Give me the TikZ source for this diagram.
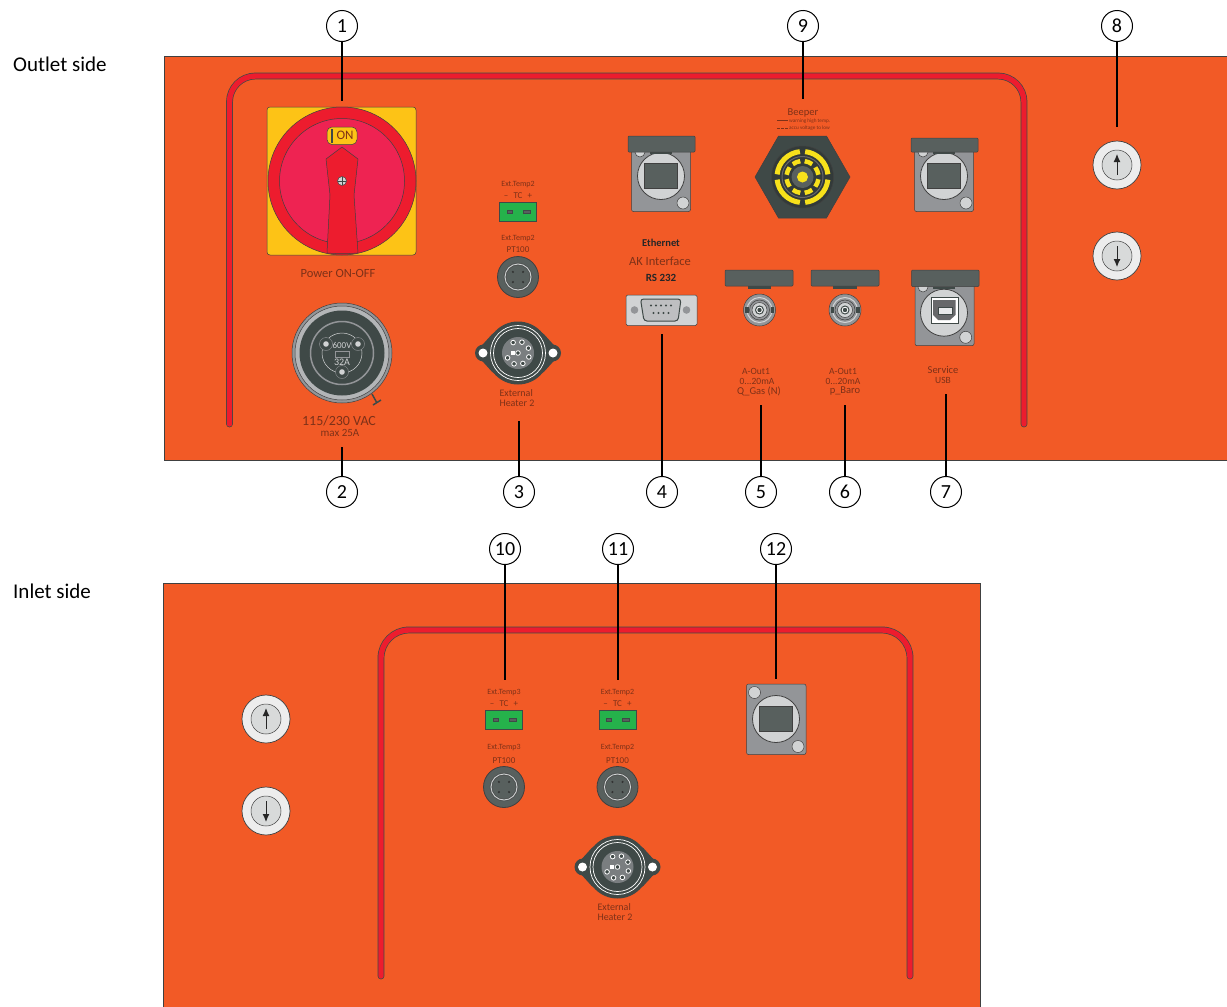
\documentclass[tikz,border=0pt]{standalone}
\usepackage{fontspec}
\setmainfont{Carlito}
\usetikzlibrary{arrows.meta,calc}
\definecolor{panel}{HTML}{F25A26}
\definecolor{tube}{HTML}{ED1C2E}
\definecolor{knob}{HTML}{EE2352}
\definecolor{plate}{HTML}{FDC316}
\definecolor{slate}{HTML}{3F4947}
\definecolor{slatelt}{HTML}{58605E}
\definecolor{steel}{HTML}{939598}
\definecolor{silver}{HTML}{D1D3D4}
\definecolor{term}{HTML}{25B24B}
\definecolor{ink}{HTML}{7E3118}
\definecolor{buzz}{HTML}{F7E11B}
\tikzset{
  plabel/.style={text=ink,inner sep=0pt,align=center,font=\fontsize{#1}{#1}\selectfont},
  numcirc/.style={draw,fill=white,circle,line width=1pt,minimum size=31pt,inner sep=0pt,
    font=\fontsize{20}{20}\selectfont},
  edge/.style={draw=black!75,line width=0.5pt},
  capbar/.style={edge,fill=slatelt,rounded corners=1pt},
  % plain network socket, origin in the middle of the round part
  pics/netsocket/.style={code={
    \path[edge,fill=steel,rounded corners=2pt] (-29.5,-29.5) rectangle (29.5,35.5);
    \path[edge,fill=silver] (22,27) circle (6);
    \path[edge,fill=silver,line width=0.8pt] (0,0) circle (23.5);
    \path[edge,fill=slatelt] (-16.5,-12.5) rectangle (16.5,12.5);
  }},
  pics/capsocket/.style={code={
    \pic {netsocket};
    \path[edge,fill=silver] (-21,-24) circle (5);
    \path[fill=slate] (-11,-27) rectangle (11,-22);
    \path[capbar] (-33,#1) rectangle (34,-24);
  }},
  pics/ptsocket/.style={code={
    \path[edge,fill=slatelt,line width=0.8pt] (0,0) circle (20.5);
    \path[draw=black!70,line width=0.4pt] (0,0) circle (14);
    \path[draw=silver,line width=0.9pt] (0,0) circle (13);
    \path[draw=black!70,line width=0.4pt] (0,0) circle (12);
    \foreach \a in {45,135,225,315} \fill[black!80] (\a:7.2) circle (1.2);
  }},
  pics/tcblock/.style={code={
    \path[draw=slate,fill=term,line width=0.8pt] (-18.5,-9.5) rectangle (18.5,9.5);
    \path[draw=slate,fill=slatelt] (-11,-1.5) rectangle (-6,1.5);
    \path[draw=slate,fill=slatelt] (5,-1.5) rectangle (12,1.5);
  }},
  pics/heatersocket/.style={code={
    \path[fill=slate,rounded corners=3pt] (-43,0) -- (-24,-21) -- (24,-21) -- (43,0) -- (24,21) -- (-24,21) -- cycle;
    \fill[slate] (0,0) circle (31.5);
    \foreach \s in {-1,1} {
      \fill[slate] (\s*34.5,0) circle (8.5);
      \fill[white] (\s*35,0) circle (4.5);
    }
    \draw[white,line width=0.7pt] (0,0) circle (27.5);
    \draw[white,line width=0.7pt] (0,0) circle (24.5);
    \fill[steel!70!slate] (0,0) circle (16);
    \foreach \a in {0,45,90,135,225,270,315} {
      \draw[white,fill=slate,line width=0.8pt] (\a+20:11.5) circle (2.3);
    }
    \draw[white,fill=slate,line width=0.8pt] (0,0) circle (2.3);
    \fill[white] (-7.5,-2) rectangle (-3.5,2);
  }},
  pics/bncjack/.style={code={
    \path[edge,fill=steel] (0,0) circle (16);
    \path[draw=silver,line width=1pt] (0,0) circle (12.5);
    \path[edge,fill=steel] (0,0) circle (10);
    \path[edge,fill=silver] (0,0) circle (7.5);
    \path[draw=slate,fill=white,line width=1pt] (0,0) circle (4);
    \fill[slate] (0,0) circle (2.2);
    \foreach \s in {-1,1} \fill[slate] (\s*14.5,-3) rectangle (\s*11,3);
  }},
  pics/rockerkey/.style={code={
    \path[edge,fill=black!7,line width=0.7pt] (0,0) circle (24);
    \path[edge,fill=silver!85] (0,0) circle (15);
    \draw[black!85,line width=1pt,-{Latex[length=8pt,width=7pt]}] (0,#1*10) -- (0,#1*-11);
  }}
}
\begin{document}
\begin{tikzpicture}[x=1pt,y=-1pt]
  \clip (0,0) rectangle (1227,1007);
  \node[anchor=west,inner sep=0pt,font=\fontsize{21}{21}\selectfont] (outlet) at (13,64) {Outlet side};
  \node[anchor=west,inner sep=0pt,font=\fontsize{21}{21}\selectfont] (inlet) at (13,591) {Inlet side};
  % the two panels
  \path[edge,fill=panel] (164,56) rectangle (1240,460);
  \path[edge,fill=panel] (163,583) rectangle (980,1020);
  % red tube
  \foreach \w/\c in {6.8/slate,5.4/tube} {
    \draw[\c,line width=\w pt,line cap=round,rounded corners=26pt] (229.5,424) -- (229.5,76) -- (1024,76) -- (1024,424);
    \draw[\c,line width=\w pt,line cap=round,rounded corners=28pt] (381,976) -- (381,630) -- (910,630) -- (910,976);
  }
  % main switch
  \path[edge,fill=plate,rounded corners=3pt] (267,107) rectangle (416,255);
  \path[edge,fill=tube] (342,181) circle (74);
  \path[edge,fill=knob] (342,181) circle (62.5);
  \path[edge,fill=tube,line join=round] (342,147) -- (358,159) -- (354,195) -- (358,253)
    to[bend left=4] (327,253) -- (330,195) -- (326,159) -- cycle;
  \path[edge,fill=plate,rounded corners=5pt] (327,127) rectangle (357,144.5);
  \fill[slate] (331,129) rectangle (332.5,143);
  \node[plabel=13] (on) at (345,135.5) {ON};
  \path[edge,fill=silver] (342,181) circle (4.5);
  \draw[slate,line width=0.8pt] (338,181) -- (346,181) (342,177) -- (342,185);
  \node[plabel=12.5] (power) at (338,273) {Power ON-OFF};
  % mains socket
  \draw[slate,line width=1.5pt] (372,394) -- (377,403) (373,405) -- (381,400);
  \path[edge,fill=steel] (342,353) circle (50);
  \path[edge,fill=steel!70] (342,353) circle (47);
  \path[fill=slate] (342,353) circle (42.5);
  \path[draw=steel,line width=1.5pt] (342,353) circle (31.5);
  \path[draw=silver,line width=0.5pt] (342,353) circle (20);
  \foreach \p/\q in {-16/-9,16/-9,0/19} {
    \fill[slate] (342+\p,353+\q) circle (6.5);
    \draw[steel] (342+\p,353+\q) circle (6.5);
    \fill[silver] (342+\p,353+\q) circle (2.8);
  }
  \path[draw=steel,fill=slate] (335,350.8) rectangle (349.3,357.3);
  \node[plabel=9,text=silver] (volt) at (342,345) {600V};
  \node[plabel=10,text=silver] (amp) at (342,362.5) {32A};
  \node[plabel=14] (vac) at (339,421) {115/230 VAC};
  \node[plabel=11] (max) at (340,433) {max 25A};
  % outlet side sockets
  \pic at (661,176) {capsocket=-40};
  \pic at (944,176) {capsocket=-38};
  % the usb one sits lower under its cap
  \path[edge,fill=steel,rounded corners=2pt] (915,280) rectangle (974,345.7);
  \path[edge,fill=silver] (965.7,337.3) circle (6);
  \path[edge,fill=silver] (923,287) circle (5);
  \path[edge,fill=silver,line width=0.8pt] (944,312.7) circle (23.5);
  \path[capbar] (911.5,270) rectangle (979,286.5);
  \path[fill=slate] (933,286.5) rectangle (955,288.5);
  \path[draw=slate,fill=white] (930.7,297.3) rectangle (958.3,322.7);
  \path[fill=steel!70!black] (933,300) -- (955.5,300) -- (955.5,315) -- (950,320) -- (938,320) -- (933,315) -- cycle;
  \path[draw=slate,fill=silver!50] (937.7,306.7) rectangle (951.7,314);
  \node[plabel=8] (temp2a) at (518,185) {Ext.Temp2};
  \node[plabel=9] (tc2a) at (518,196) {--\,\, TC\,\, +};
  \pic at (518,211.5) {tcblock};
  \node[plabel=8] (temp2b) at (518,239) {Ext.Temp2};
  \node[plabel=9] (pt2) at (518,250) {PT100};
  \pic at (518,277) {ptsocket};
  \pic at (518,353) {heatersocket};
  \node[plabel=10,align=left] (heater) at (517,398.5) {External\\[0pt]Heater 2};
  % beeper
  \node[plabel=10.5] (beeper) at (803,113) {Beeper};
  \draw[ink,line width=0.6pt] (777,120.7) -- (788,120.7);
  \draw[ink,line width=0.6pt,dash pattern=on 2.5pt off 1.5pt] (777,128) -- (788,128);
  \node[plabel=5.2,anchor=west] (warn) at (789,120.7) {warning high temp.};
  \node[plabel=5.2,anchor=west] (accu) at (789,128) {accu voltage to low};
  \path[edge,fill=slate] (755,177) -- (778.5,136) -- (826.5,136) -- (850,177) -- (826.5,218) -- (778.5,218) -- cycle;
  \path[edge,fill=slate!80!black] (802.5,177) circle (31);
  \path[draw=steel!70!black,line width=1pt] (802.5,177) circle (20.5);
  \path[fill=slatelt] (802.5,177) circle (11);
  \foreach \a in {0,90,180,270} {
    \draw[buzz,line width=5pt] (802.5,177) ++(\a+6:25.5) arc (\a+6:\a+84:25.5);
  }
  \foreach \a in {0,45,...,315} {
    \draw[buzz,line width=4.5pt] (802.5,177) ++(\a+8:16) arc (\a+8:\a+37:16);
  }
  \fill[buzz] (802.5,177) circle (5.5);
  % interface labels and D-sub
  \node[plabel=10.5,text=black!85,font=\fontsize{10.5}{10.5}\selectfont\bfseries] (eth) at (661,243) {Ethernet};
  \node[plabel=12.5] (ak) at (660,261) {AK Interface};
  \node[plabel=11,text=black!85,font=\fontsize{11}{11}\selectfont\bfseries] (rs) at (661,278) {RS 232};
  \path[edge,fill=silver,rounded corners=1.5pt] (626,295) rectangle (697,325.5);
  \foreach \x in {634.5,686.5} \fill[steel] (\x,310) circle (3.8);
  \path[draw=slate,fill=steel!60,line width=1pt,rounded corners=3pt] (640.5,299) -- (681,299) -- (678,321) -- (644,321) -- cycle;
  \foreach \x in {-10,-5,0,5,10} \fill[slate] (661+\x,305.5) circle (1.1);
  \foreach \x in {-7.5,-2.5,2.5,7.5} \fill[slate] (661+\x,313) circle (1.1);
  % analog outputs
  \foreach \x/\y in {725/793,811/879} \path[capbar] (\x,270) rectangle (\y,286);
  \foreach \x in {747.5,833} \path[fill=slate] (\x,286) rectangle (\x+23.5,288.5);
  \pic at (759.5,310) {bncjack};
  \pic at (845,310) {bncjack};
  \node[plabel=9.5] (out1a) at (756,371) {A-Out1};
  \node[plabel=9.5] (ma1) at (757,381) {0...20mA};
  \node[plabel=10.5] (gas) at (759,391) {Q\_Gas (N)};
  \node[plabel=9.5] (out1b) at (843,371) {A-Out1};
  \node[plabel=9.5] (ma2) at (843,381) {0...20mA};
  \node[plabel=10.5] (baro) at (845,391) {p\_Baro};
  \node[plabel=10.5] (service) at (943,370) {Service};
  \node[plabel=9.5] (usb) at (943,380) {USB};
  % keys
  \pic at (1117,165) {rockerkey=1};
  \pic at (1117,256) {rockerkey=-1};
  \pic at (266,719) {rockerkey=1};
  \pic at (266,811) {rockerkey=-1};
  % inlet side
  \foreach \x/\n in {504/3,617.5/2} {
    \node[plabel=8] at (\x,693) {Ext.Temp\n};
    \node[plabel=9] at (\x,704) {--\,\, TC\,\, +};
    \pic at (\x,719.5) {tcblock};
    \node[plabel=8] at (\x,748) {Ext.Temp\n};
    \node[plabel=9] at (\x,761) {PT100};
    \pic at (\x,787) {ptsocket};
  }
  \pic at (617.5,867) {heatersocket};
  \node[plabel=10,align=left] (heater2) at (615,912.5) {External\\[0pt]Heater 2};
  \path[edge,fill=steel,rounded corners=2pt] (746.5,684) rectangle (806,754.5);
  \foreach \x/\y in {754.5/692.5,798/746.5} \path[edge,fill=silver] (\x,\y) circle (6);
  \path[edge,fill=silver,line width=0.8pt] (776,719) circle (23.5);
  \path[edge,fill=slatelt] (759.5,706.5) rectangle (792.5,731.5);
  % numbered callouts
  \foreach \n/\x/\y/\e in {1/342/26/101,2/342/492/447,3/519/492/421,4/662/492/334,5/761/492/405,6/845/492/405,
      7/946/492/394,8/1117/26/127,9/803/26/99,10/505/549/680,11/618/549/680,12/776/549/679} {
    \node[numcirc] (c\n) at (\x,\y) {\n};
    \coordinate (e\n) at (\x,\e);
    \draw[line width=2pt] (c\n) -- (e\n);
  }
\end{tikzpicture}
\end{document}
